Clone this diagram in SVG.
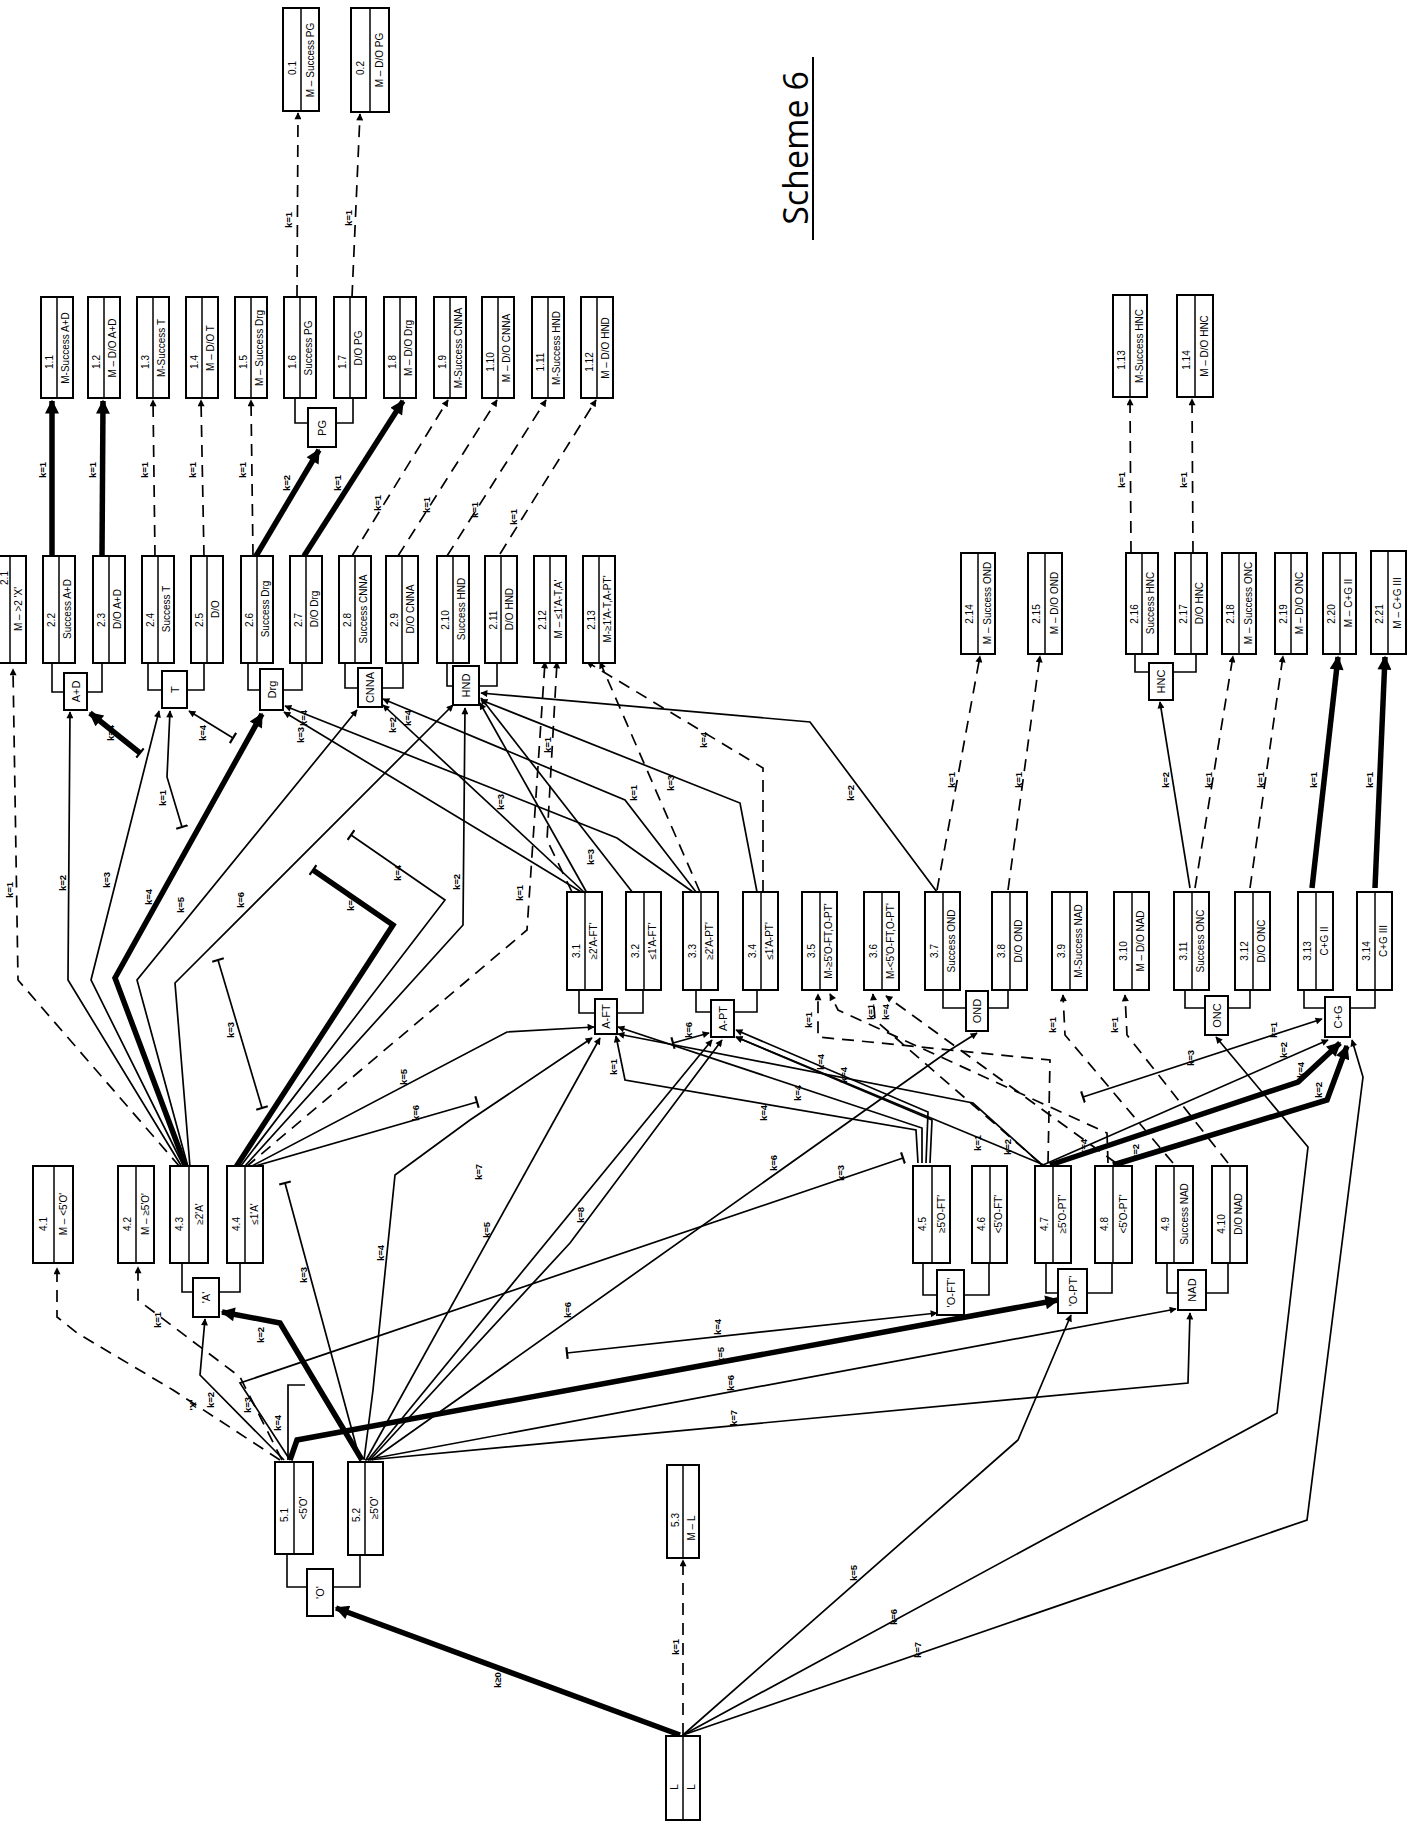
<svg xmlns="http://www.w3.org/2000/svg" width="1420" height="1837" viewBox="0 0 1420 1837">
<style>
.b{fill:#fff;stroke:#000;stroke-width:2}
.v{stroke:#000;stroke-width:1.5}
.t{font-family:"Liberation Sans",Arial,sans-serif;font-size:10px;text-anchor:middle;dominant-baseline:central;fill:#000}
.g{font-family:"Liberation Sans",Arial,sans-serif;font-size:11px;text-anchor:middle;dominant-baseline:central;fill:#000}
.c{fill:none;stroke:#000;stroke-width:1.7}
.d{stroke-dasharray:12 8}
.k{stroke-width:5.5}
.br{fill:none;stroke:#000;stroke-width:1.6}
.l{font-family:"Liberation Sans",Arial,sans-serif;font-size:9.5px;font-weight:bold;text-anchor:middle;dominant-baseline:central;fill:#000}
</style>
<defs>
<marker id="a" viewBox="0 0 10 10" refX="9" refY="5" markerWidth="10" markerHeight="7" markerUnits="userSpaceOnUse" orient="auto"><path d="M0,0L10,5L0,10z"/></marker>
<marker id="A" viewBox="0 0 10 10" refX="9" refY="5" markerWidth="22" markerHeight="14" markerUnits="userSpaceOnUse" orient="auto"><path d="M0,0L10,5L0,10z"/></marker>
<marker id="tb" viewBox="0 0 10 10" refX="5" refY="5" markerWidth="12" markerHeight="12" markerUnits="userSpaceOnUse" orient="auto"><path d="M5,0L5,10" stroke="#000" stroke-width="1.8"/></marker>
</defs>
<rect width="1420" height="1837" fill="#fff"/>

<g id="title">
<text x="795" y="148" transform="rotate(-90 795 148)" font-family="'Open Sans','Liberation Sans',sans-serif" font-size="34" text-anchor="middle" dominant-baseline="central">Scheme 6</text>
<line x1="813" y1="57" x2="813" y2="240" stroke="#000" stroke-width="2"/>
</g>

<g id="brackets">
<path class="br" d="M295,398V423H308M353,398V423H336"/>
<path class="br" d="M52,663V692H64M102,663V692H87"/>
<path class="br" d="M148,663V690H162M204,663V690H187"/>
<path class="br" d="M248,663V690H260M302,663V690H283"/>
<path class="br" d="M345,663V688H358M403,663V688H382"/>
<path class="br" d="M447,663V686H453M497,663V686H479"/>
<path class="br" d="M1135,654V672H1149M1196,654V672H1173"/>
<path class="br" d="M579,990V1013H595M643,990V1013H617"/>
<path class="br" d="M696,990V1012H711M757,990V1012H734"/>
<path class="br" d="M943,990V1008H966M1008,990V1008H988"/>
<path class="br" d="M1185,990V1008H1205M1250,990V1008H1228"/>
<path class="br" d="M1304,990V1008H1325M1375,990V1008H1350"/>
<path class="br" d="M182,1263V1292H193M240,1263V1292H219"/>
<path class="br" d="M923,1263V1295H937M989,1263V1295H964"/>
<path class="br" d="M1046,1263V1293H1058M1112,1263V1293H1087"/>
<path class="br" d="M1167,1263V1293H1178M1228,1263V1293H1206"/>
<path class="br" d="M287,1554V1587H307M360,1555V1587H333"/>
</g>

<g id="connectors">
<path class="c k" d="M52,560L52,401" marker-end="url(#A)"/>
<path class="c k" d="M102,557L103,401" marker-end="url(#A)"/>
<path class="c d" d="M155,557L153,400" marker-end="url(#a)"/>
<path class="c d" d="M204,557L201,400" marker-end="url(#a)"/>
<path class="c d" d="M253,556L251,400" marker-end="url(#a)"/>
<path class="c k" d="M256,556L319,450" marker-end="url(#A)"/>
<path class="c k" d="M304,556L403,401" marker-end="url(#A)"/>
<path class="c d" d="M352,556L448,400" marker-end="url(#a)"/>
<path class="c d" d="M398,556L497,400" marker-end="url(#a)"/>
<path class="c d" d="M447,556L546,400" marker-end="url(#a)"/>
<path class="c d" d="M500,554L596,400" marker-end="url(#a)"/>
<path class="c d" d="M297,297L298,113" marker-end="url(#a)"/>
<path class="c d" d="M352,297L360,114" marker-end="url(#a)"/>
<path class="c d" d="M1131,553L1130,399" marker-end="url(#a)"/>
<path class="c d" d="M1193,553L1192,399" marker-end="url(#a)"/>
<path class="c d" d="M937,890L980,656" marker-end="url(#a)"/>
<path class="c d" d="M1008,890L1040,656" marker-end="url(#a)"/>
<path class="c" d="M1190,888L1160,702" marker-end="url(#a)"/>
<path class="c d" d="M1195,888L1233,656" marker-end="url(#a)"/>
<path class="c d" d="M1250,888L1283,656" marker-end="url(#a)"/>
<path class="c k" d="M1312,888L1338,657" marker-end="url(#A)"/>
<path class="c k" d="M1375,888L1385,657" marker-end="url(#A)"/>

<path class="c d" d="M180,1167L18,980L13,669" marker-end="url(#a)"/>
<path class="c" d="M182,1167L68,980L70,712" marker-end="url(#a)"/>
<path class="c" d="M184,1167L91,980L159,711" marker-end="url(#a)"/>
<path class="c k" d="M186,1167L115,978L262,714" marker-end="url(#A)"/>
<path class="c" d="M188,1167L137,980L357,710" marker-end="url(#a)"/>
<path class="c" d="M190,1167L175,983L453,705" marker-end="url(#a)"/>

<path class="c k" d="M236,1167L393,925L313,870" marker-end="url(#tb)"/>
<path class="c" d="M240,1167L445,900L351,835" marker-end="url(#tb)"/>
<path class="c" d="M218,960L262,1108" marker-start="url(#tb)" marker-end="url(#tb)"/>
<path class="c d" d="M246,1167L527,930L545,662" marker-end="url(#a)"/>
<path class="c" d="M250,1167L507,1032L594,1027" marker-end="url(#a)"/>
<path class="c" d="M252,1167L477,1102" marker-end="url(#tb)"/>
<path class="c" d="M244,1167L463,925L465,708" marker-end="url(#a)"/>

<path class="c k" d="M140,753L90,713" marker-start="url(#tb)" marker-end="url(#A)"/>
<path class="c" d="M233,738L189,711" marker-start="url(#tb)" marker-end="url(#a)"/>
<path class="c" d="M182,827L167,777L170,711" marker-start="url(#tb)" marker-end="url(#a)"/>

<path class="c" d="M583,893L284,712" marker-end="url(#a)"/>
<path class="c" d="M585,893L383,705" marker-end="url(#a)"/>
<path class="c" d="M587,893L480,703" marker-end="url(#a)"/>
<path class="c" d="M633,893L481,698" marker-end="url(#a)"/>
<path class="c" d="M693,892L617,838L285,706" marker-end="url(#a)"/>
<path class="c" d="M696,892L625,800L383,699" marker-end="url(#a)"/>
<path class="c" d="M757,892L740,803L481,700" marker-end="url(#a)"/>
<path class="c" d="M937,892L810,722L481,693" marker-end="url(#a)"/>
<path class="c d" d="M763,892L763,768L587,662" marker-end="url(#a)"/>
<path class="c d" d="M700,892L600,662" marker-end="url(#a)"/>
<path class="c d" d="M572,892L547,840L557,662" marker-end="url(#a)"/>

<path class="c" d="M918,1163L916,1130L625,1080L616,1036" marker-end="url(#a)"/>
<path class="c" d="M922,1163L922,1128L618,1027" marker-end="url(#a)"/>
<path class="c" d="M926,1163L928,1112L736,1030" marker-end="url(#a)"/>
<path class="c" d="M930,1163L932,1120L736,1037" marker-end="url(#a)"/>
<path class="c d" d="M1048,1163L1050,1060L870,1042L818,1037L818,994" marker-end="url(#a)"/>
<path class="c d" d="M1108,1163L1107,1133L838,1010L830,994" marker-end="url(#a)"/>
<path class="c d" d="M1040,1163L875,1020L873,994" marker-end="url(#a)"/>
<path class="c d" d="M1116,1163L886,996" marker-end="url(#a)"/>
<path class="c d" d="M1173,1163L1065,1035L1063,995" marker-end="url(#a)"/>
<path class="c d" d="M1228,1163L1127,1035L1125,995" marker-end="url(#a)"/>
<path class="c" d="M1042,1165L973,1103L618,1034" marker-end="url(#a)"/>
<path class="c" d="M1044,1165L736,1037" marker-end="url(#a)"/>
<path class="c" d="M673,1043L709,1033" marker-start="url(#tb)" marker-end="url(#a)"/>

<path class="c k" d="M1050,1165L1298,1082L1340,1043" marker-end="url(#A)"/>
<path class="c k" d="M1113,1165L1327,1100L1347,1046" marker-end="url(#A)"/>
<path class="c" d="M1083,1097L1322,1019" marker-start="url(#tb)" marker-end="url(#a)"/>
<path class="c" d="M1043,1165L1328,1040" marker-end="url(#a)"/>
<path class="c" d="M683,1735L1307,1520L1363,1077L1352,1040" marker-end="url(#a)"/>
<path class="c" d="M683,1735L1277,1413L1308,1147L1216,1037" marker-end="url(#a)"/>
<path class="c" d="M683,1735L1018,1440L1071,1315" marker-end="url(#a)"/>
<path class="c k" d="M680,1735L336,1608" marker-end="url(#A)"/>
<path class="c d" d="M683,1735L683,1560" marker-end="url(#a)"/>

<path class="c k" d="M290,1460L297,1440L1058,1300" marker-end="url(#A)"/>
<path class="c" d="M567,1353L937,1313" marker-start="url(#tb)" marker-end="url(#a)"/>
<path class="c" d="M365,1460L1176,1309" marker-end="url(#a)"/>
<path class="c" d="M368,1460L1188,1383L1190,1313" marker-end="url(#a)"/>
<path class="c" d="M290,1460L240,1383L903,1158" marker-end="url(#tb)"/>
<path class="c k" d="M362,1460L320,1390L280,1323L222,1312" marker-end="url(#A)"/>
<path class="c" d="M360,1460L285,1183" marker-end="url(#tb)"/>
<path class="c" d="M364,1460L373,1390L395,1175L470,1120L592,1038" marker-end="url(#a)"/>
<path class="c" d="M366,1460L600,1038" marker-end="url(#a)"/>
<path class="c" d="M368,1460L712,1040" marker-end="url(#a)"/>
<path class="c" d="M370,1460L570,1243L722,1040" marker-end="url(#a)"/>
<path class="c" d="M372,1460L950,1050L977,1033" marker-end="url(#a)"/>
<path class="c d" d="M280,1460L173,1390L77,1333L57,1317L57,1268" marker-end="url(#a)"/>
<path class="c d" d="M282,1460L240,1377L138,1300L138,1267" marker-end="url(#a)"/>
<path class="c" d="M284,1460L200,1375L205,1319" marker-end="url(#a)"/>
<path class="c" d="M288,1460L288,1385L305,1385"/>

<g id="edge-labels">
<text class="l" x="42" y="470" transform="rotate(-90 42 470)">k=1</text>
<text class="l" x="92" y="470" transform="rotate(-90 92 470)">k=1</text>
<text class="l" x="144" y="470" transform="rotate(-90 144 470)">k=1</text>
<text class="l" x="192" y="470" transform="rotate(-90 192 470)">k=1</text>
<text class="l" x="242" y="470" transform="rotate(-90 242 470)">k=1</text>
<text class="l" x="286" y="483" transform="rotate(-90 286 483)">k=2</text>
<text class="l" x="337" y="483" transform="rotate(-90 337 483)">k=1</text>
<text class="l" x="377" y="503" transform="rotate(-90 377 503)">k=1</text>
<text class="l" x="426" y="505" transform="rotate(-90 426 505)">k=1</text>
<text class="l" x="474" y="510" transform="rotate(-90 474 510)">k=1</text>
<text class="l" x="513" y="517" transform="rotate(-90 513 517)">k=1</text>
<text class="l" x="288" y="220" transform="rotate(-90 288 220)">k=1</text>
<text class="l" x="348" y="218" transform="rotate(-90 348 218)">k=1</text>
<text class="l" x="1121" y="480" transform="rotate(-90 1121 480)">k=1</text>
<text class="l" x="1183" y="480" transform="rotate(-90 1183 480)">k=1</text>
<text class="l" x="951" y="780" transform="rotate(-90 951 780)">k=1</text>
<text class="l" x="1018" y="780" transform="rotate(-90 1018 780)">k=1</text>
<text class="l" x="1165" y="780" transform="rotate(-90 1165 780)">k=2</text>
<text class="l" x="1208" y="780" transform="rotate(-90 1208 780)">k=1</text>
<text class="l" x="1260" y="780" transform="rotate(-90 1260 780)">k=1</text>
<text class="l" x="1313" y="780" transform="rotate(-90 1313 780)">k=1</text>
<text class="l" x="1369" y="780" transform="rotate(-90 1369 780)">k=1</text>
<text class="l" x="9" y="890" transform="rotate(-90 9 890)">k=1</text>
<text class="l" x="62" y="883" transform="rotate(-90 62 883)">k=2</text>
<text class="l" x="106" y="880" transform="rotate(-90 106 880)">k=3</text>
<text class="l" x="148" y="897" transform="rotate(-90 148 897)">k=4</text>
<text class="l" x="180" y="905" transform="rotate(-90 180 905)">k=5</text>
<text class="l" x="240" y="900" transform="rotate(-90 240 900)">k=6</text>
<text class="l" x="350" y="903" transform="rotate(-90 350 903)">k=4</text>
<text class="l" x="397" y="873" transform="rotate(-90 397 873)">k=4</text>
<text class="l" x="230" y="1030" transform="rotate(-90 230 1030)">k=3</text>
<text class="l" x="519" y="893" transform="rotate(-90 519 893)">k=1</text>
<text class="l" x="403" y="1077" transform="rotate(-90 403 1077)">k=5</text>
<text class="l" x="415" y="1113" transform="rotate(-90 415 1113)">k=6</text>
<text class="l" x="456" y="882" transform="rotate(-90 456 882)">k=2</text>
<text class="l" x="110" y="733" transform="rotate(-90 110 733)">k=4</text>
<text class="l" x="202" y="733" transform="rotate(-90 202 733)">k=4</text>
<text class="l" x="162" y="798" transform="rotate(-90 162 798)">k=1</text>
<text class="l" x="300" y="735" transform="rotate(-90 300 735)">k=3</text>
<text class="l" x="392" y="725" transform="rotate(-90 392 725)">k=2</text>
<text class="l" x="500" y="802" transform="rotate(-90 500 802)">k=3</text>
<text class="l" x="590" y="857" transform="rotate(-90 590 857)">k=3</text>
<text class="l" x="303" y="718" transform="rotate(-90 303 718)">k=4</text>
<text class="l" x="407" y="718" transform="rotate(-90 407 718)">k=4</text>
<text class="l" x="670" y="783" transform="rotate(-90 670 783)">k=3</text>
<text class="l" x="850" y="793" transform="rotate(-90 850 793)">k=2</text>
<text class="l" x="703" y="740" transform="rotate(-90 703 740)">k=4</text>
<text class="l" x="633" y="793" transform="rotate(-90 633 793)">k=1</text>
<text class="l" x="547" y="745" transform="rotate(-90 547 745)">k=1</text>
<text class="l" x="763" y="1113" transform="rotate(-90 763 1113)">k=4</text>
<text class="l" x="613" y="1067" transform="rotate(-90 613 1067)">k=1</text>
<text class="l" x="797" y="1093" transform="rotate(-90 797 1093)">k=4</text>
<text class="l" x="820" y="1062" transform="rotate(-90 820 1062)">k=4</text>
<text class="l" x="843" y="1075" transform="rotate(-90 843 1075)">k=4</text>
<text class="l" x="808" y="1020" transform="rotate(-90 808 1020)">k=1</text>
<text class="l" x="870" y="1012" transform="rotate(-90 870 1012)">k=1</text>
<text class="l" x="885" y="1012" transform="rotate(-90 885 1012)">k=4</text>
<text class="l" x="1052" y="1025" transform="rotate(-90 1052 1025)">k=1</text>
<text class="l" x="1114" y="1025" transform="rotate(-90 1114 1025)">k=1</text>
<text class="l" x="977" y="1143" transform="rotate(-90 977 1143)">k=1</text>
<text class="l" x="1007" y="1147" transform="rotate(-90 1007 1147)">k=2</text>
<text class="l" x="688" y="1030" transform="rotate(-90 688 1030)">k=6</text>
<text class="l" x="1083" y="1147" transform="rotate(-90 1083 1147)">k=4</text>
<text class="l" x="1300" y="1070" transform="rotate(-90 1300 1070)">k=4</text>
<text class="l" x="1135" y="1152" transform="rotate(-90 1135 1152)">k=2</text>
<text class="l" x="1318" y="1090" transform="rotate(-90 1318 1090)">k=2</text>
<text class="l" x="1273" y="1030" transform="rotate(-90 1273 1030)">k=1</text>
<text class="l" x="1283" y="1050" transform="rotate(-90 1283 1050)">k=2</text>
<text class="l" x="1190" y="1058" transform="rotate(-90 1190 1058)">k=3</text>
<text class="l" x="917" y="1650" transform="rotate(-90 917 1650)">k=7</text>
<text class="l" x="893" y="1617" transform="rotate(-90 893 1617)">k=6</text>
<text class="l" x="853" y="1573" transform="rotate(-90 853 1573)">k=5</text>
<text class="l" x="497" y="1680" transform="rotate(-90 497 1680)">k≥0</text>
<text class="l" x="675" y="1647" transform="rotate(-90 675 1647)">k=1</text>
<text class="l" x="720" y="1355" transform="rotate(-90 720 1355)">k=5</text>
<text class="l" x="717" y="1327" transform="rotate(-90 717 1327)">k=4</text>
<text class="l" x="730" y="1383" transform="rotate(-90 730 1383)">k=6</text>
<text class="l" x="733" y="1418" transform="rotate(-90 733 1418)">k=7</text>
<text class="l" x="840" y="1173" transform="rotate(-90 840 1173)">k=3</text>
<text class="l" x="260" y="1335" transform="rotate(-90 260 1335)">k=2</text>
<text class="l" x="303" y="1275" transform="rotate(-90 303 1275)">k=3</text>
<text class="l" x="380" y="1253" transform="rotate(-90 380 1253)">k=4</text>
<text class="l" x="478" y="1172" transform="rotate(-90 478 1172)">k=7</text>
<text class="l" x="486" y="1230" transform="rotate(-90 486 1230)">k=5</text>
<text class="l" x="580" y="1215" transform="rotate(-90 580 1215)">k=8</text>
<text class="l" x="567" y="1310" transform="rotate(-90 567 1310)">k=6</text>
<text class="l" x="773" y="1163" transform="rotate(-90 773 1163)">k=6</text>
<text class="l" x="157" y="1320" transform="rotate(-90 157 1320)">k=1</text>
<text class="l" x="192" y="1405" transform="rotate(-90 192 1405)">'X'</text>
<text class="l" x="210" y="1400" transform="rotate(-90 210 1400)">k=2</text>
<text class="l" x="247" y="1405" transform="rotate(-90 247 1405)">k=3</text>
<text class="l" x="277" y="1423" transform="rotate(-90 277 1423)">k=4</text>
</g>
</g>

<g id="n0_1"><rect class="b" x="283" y="8" width="36" height="103"/><line class="v" x1="301" y1="8" x2="301" y2="111"/><text class="t" x="292" y="68" transform="rotate(-90 292 68)">0.1</text><text class="t" x="310" y="60" transform="rotate(-90 310 60)">M – Success PG</text></g>
<g id="n0_2"><rect class="b" x="351" y="8" width="38" height="104"/><line class="v" x1="370" y1="8" x2="370" y2="112"/><text class="t" x="360" y="68" transform="rotate(-90 360 68)">0.2</text><text class="t" x="379" y="60" transform="rotate(-90 379 60)">M – D/O PG</text></g>

<g id="n1_1"><rect class="b" x="41" y="297" width="32" height="101"/><line class="v" x1="57" y1="297" x2="57" y2="398"/><text class="t" x="49" y="362" transform="rotate(-90 49 362)">1.1</text><text class="t" x="65" y="348" transform="rotate(-90 65 348)">M-Success A+D</text></g>
<g id="n1_2"><rect class="b" x="88" y="297" width="32" height="101"/><line class="v" x1="104" y1="297" x2="104" y2="398"/><text class="t" x="96" y="362" transform="rotate(-90 96 362)">1.2</text><text class="t" x="112" y="348" transform="rotate(-90 112 348)">M – D/O A+D</text></g>
<g id="n1_3"><rect class="b" x="137" y="297" width="32" height="101"/><line class="v" x1="153" y1="297" x2="153" y2="398"/><text class="t" x="145" y="362" transform="rotate(-90 145 362)">1.3</text><text class="t" x="161" y="348" transform="rotate(-90 161 348)">M-Success T</text></g>
<g id="n1_4"><rect class="b" x="186" y="297" width="32" height="101"/><line class="v" x1="202" y1="297" x2="202" y2="398"/><text class="t" x="194" y="362" transform="rotate(-90 194 362)">1.4</text><text class="t" x="210" y="348" transform="rotate(-90 210 348)">M – D/O T</text></g>
<g id="n1_5"><rect class="b" x="235" y="297" width="32" height="101"/><line class="v" x1="251" y1="297" x2="251" y2="398"/><text class="t" x="243" y="362" transform="rotate(-90 243 362)">1.5</text><text class="t" x="259" y="348" transform="rotate(-90 259 348)">M – Success Drg</text></g>
<g id="n1_6"><rect class="b" x="284" y="297" width="32" height="101"/><line class="v" x1="300" y1="297" x2="300" y2="398"/><text class="t" x="292" y="362" transform="rotate(-90 292 362)">1.6</text><text class="t" x="308" y="348" transform="rotate(-90 308 348)">Success PG</text></g>
<g id="n1_7"><rect class="b" x="334" y="297" width="32" height="101"/><line class="v" x1="350" y1="297" x2="350" y2="398"/><text class="t" x="342" y="362" transform="rotate(-90 342 362)">1.7</text><text class="t" x="358" y="348" transform="rotate(-90 358 348)">D/O PG</text></g>
<g id="n1_8"><rect class="b" x="384" y="297" width="32" height="101"/><line class="v" x1="400" y1="297" x2="400" y2="398"/><text class="t" x="392" y="362" transform="rotate(-90 392 362)">1.8</text><text class="t" x="408" y="348" transform="rotate(-90 408 348)">M – D/O Drg</text></g>
<g id="n1_9"><rect class="b" x="434" y="297" width="32" height="101"/><line class="v" x1="450" y1="297" x2="450" y2="398"/><text class="t" x="442" y="362" transform="rotate(-90 442 362)">1.9</text><text class="t" x="458" y="348" transform="rotate(-90 458 348)">M-Success CNNA</text></g>
<g id="n1_10"><rect class="b" x="482" y="297" width="32" height="101"/><line class="v" x1="498" y1="297" x2="498" y2="398"/><text class="t" x="490" y="362" transform="rotate(-90 490 362)">1.10</text><text class="t" x="506" y="348" transform="rotate(-90 506 348)">M – D/O CNNA</text></g>
<g id="n1_11"><rect class="b" x="532" y="297" width="32" height="101"/><line class="v" x1="548" y1="297" x2="548" y2="398"/><text class="t" x="540" y="362" transform="rotate(-90 540 362)">1.11</text><text class="t" x="556" y="348" transform="rotate(-90 556 348)">M-Success HND</text></g>
<g id="n1_12"><rect class="b" x="581" y="297" width="32" height="101"/><line class="v" x1="597" y1="297" x2="597" y2="398"/><text class="t" x="589" y="362" transform="rotate(-90 589 362)">1.12</text><text class="t" x="605" y="348" transform="rotate(-90 605 348)">M – D/O HND</text></g>
<g id="n1_13"><rect class="b" x="1113" y="295" width="34" height="102"/><line class="v" x1="1130" y1="295" x2="1130" y2="397"/><text class="t" x="1121" y="360" transform="rotate(-90 1121 360)">1.13</text><text class="t" x="1139" y="346" transform="rotate(-90 1139 346)">M-Success HNC</text></g>
<g id="n1_14"><rect class="b" x="1177" y="295" width="36" height="102"/><line class="v" x1="1195" y1="295" x2="1195" y2="397"/><text class="t" x="1186" y="360" transform="rotate(-90 1186 360)">1.14</text><text class="t" x="1204" y="346" transform="rotate(-90 1204 346)">M – D/O HNC</text></g>

<g id="pg"><rect class="b" x="308" y="408" width="28" height="39"/><text class="g" x="322" y="428" transform="rotate(-90 322 428)">PG</text></g>

<g id="n2_1"><rect class="b" x="-3" y="556" width="29" height="107"/><line class="v" x1="10" y1="556" x2="10" y2="663"/><text class="t" x="4" y="578" font-size="8" transform="rotate(-90 4 578)">2.1</text><text class="t" x="18" y="609" transform="rotate(-90 18 609)">M – &gt;2 'X'</text></g>
<g id="n2_2"><rect class="b" x="43" y="556" width="32" height="107"/><line class="v" x1="59" y1="556" x2="59" y2="663"/><text class="t" x="51" y="620" transform="rotate(-90 51 620)">2.2</text><text class="t" x="67" y="609" transform="rotate(-90 67 609)">Success A+D</text></g>
<g id="n2_3"><rect class="b" x="93" y="556" width="32" height="107"/><line class="v" x1="109" y1="556" x2="109" y2="663"/><text class="t" x="101" y="620" transform="rotate(-90 101 620)">2.3</text><text class="t" x="117" y="609" transform="rotate(-90 117 609)">D/O A+D</text></g>
<g id="n2_4"><rect class="b" x="142" y="556" width="32" height="107"/><line class="v" x1="158" y1="556" x2="158" y2="663"/><text class="t" x="150" y="620" transform="rotate(-90 150 620)">2.4</text><text class="t" x="166" y="609" transform="rotate(-90 166 609)">Success T</text></g>
<g id="n2_5"><rect class="b" x="191" y="556" width="32" height="107"/><line class="v" x1="207" y1="556" x2="207" y2="663"/><text class="t" x="199" y="620" transform="rotate(-90 199 620)">2.5</text><text class="t" x="215" y="609" transform="rotate(-90 215 609)">D/O</text></g>
<g id="n2_6"><rect class="b" x="241" y="556" width="32" height="107"/><line class="v" x1="257" y1="556" x2="257" y2="663"/><text class="t" x="249" y="620" transform="rotate(-90 249 620)">2.6</text><text class="t" x="265" y="609" transform="rotate(-90 265 609)">Success Drg</text></g>
<g id="n2_7"><rect class="b" x="290" y="556" width="32" height="107"/><line class="v" x1="306" y1="556" x2="306" y2="663"/><text class="t" x="298" y="620" transform="rotate(-90 298 620)">2.7</text><text class="t" x="314" y="609" transform="rotate(-90 314 609)">D/O Drg</text></g>
<g id="n2_8"><rect class="b" x="339" y="556" width="32" height="107"/><line class="v" x1="355" y1="556" x2="355" y2="663"/><text class="t" x="347" y="620" transform="rotate(-90 347 620)">2.8</text><text class="t" x="363" y="609" transform="rotate(-90 363 609)">Success CNNA</text></g>
<g id="n2_9"><rect class="b" x="386" y="556" width="32" height="107"/><line class="v" x1="402" y1="556" x2="402" y2="663"/><text class="t" x="394" y="620" transform="rotate(-90 394 620)">2.9</text><text class="t" x="410" y="609" transform="rotate(-90 410 609)">D/O CNNA</text></g>
<g id="n2_10"><rect class="b" x="437" y="556" width="32" height="107"/><line class="v" x1="453" y1="556" x2="453" y2="663"/><text class="t" x="445" y="620" transform="rotate(-90 445 620)">2.10</text><text class="t" x="461" y="609" transform="rotate(-90 461 609)">Success HND</text></g>
<g id="n2_11"><rect class="b" x="485" y="556" width="32" height="107"/><line class="v" x1="501" y1="556" x2="501" y2="663"/><text class="t" x="493" y="620" transform="rotate(-90 493 620)">2.11</text><text class="t" x="509" y="609" transform="rotate(-90 509 609)">D/O HND</text></g>
<g id="n2_12"><rect class="b" x="534" y="556" width="32" height="107"/><line class="v" x1="550" y1="556" x2="550" y2="663"/><text class="t" x="542" y="620" transform="rotate(-90 542 620)">2.12</text><text class="t" x="558" y="609" transform="rotate(-90 558 609)">M – ≤1'A-T,A'</text></g>
<g id="n2_13"><rect class="b" x="583" y="556" width="32" height="107"/><line class="v" x1="599" y1="556" x2="599" y2="663"/><text class="t" x="591" y="620" transform="rotate(-90 591 620)">2.13</text><text class="t" x="607" y="609" transform="rotate(-90 607 609)">M-≥1'A-T,A-PT'</text></g>
<g id="n2_14"><rect class="b" x="961" y="553" width="34" height="101"/><line class="v" x1="978" y1="553" x2="978" y2="654"/><text class="t" x="969" y="614" transform="rotate(-90 969 614)">2.14</text><text class="t" x="987" y="603" transform="rotate(-90 987 603)">M – Success OND</text></g>
<g id="n2_15"><rect class="b" x="1028" y="553" width="34" height="101"/><line class="v" x1="1045" y1="553" x2="1045" y2="654"/><text class="t" x="1036" y="614" transform="rotate(-90 1036 614)">2.15</text><text class="t" x="1054" y="603" transform="rotate(-90 1054 603)">M – D/O OND</text></g>
<g id="n2_16"><rect class="b" x="1126" y="553" width="32" height="101"/><line class="v" x1="1142" y1="553" x2="1142" y2="654"/><text class="t" x="1134" y="614" transform="rotate(-90 1134 614)">2.16</text><text class="t" x="1150" y="603" transform="rotate(-90 1150 603)">Success HNC</text></g>
<g id="n2_17"><rect class="b" x="1175" y="553" width="32" height="101"/><line class="v" x1="1191" y1="553" x2="1191" y2="654"/><text class="t" x="1183" y="614" transform="rotate(-90 1183 614)">2.17</text><text class="t" x="1199" y="603" transform="rotate(-90 1199 603)">D/O HNC</text></g>
<g id="n2_18"><rect class="b" x="1222" y="553" width="34" height="101"/><line class="v" x1="1239" y1="553" x2="1239" y2="654"/><text class="t" x="1230" y="614" transform="rotate(-90 1230 614)">2.18</text><text class="t" x="1248" y="603" transform="rotate(-90 1248 603)">M – Success ONC</text></g>
<g id="n2_19"><rect class="b" x="1275" y="553" width="32" height="101"/><line class="v" x1="1291" y1="553" x2="1291" y2="654"/><text class="t" x="1283" y="614" transform="rotate(-90 1283 614)">2.19</text><text class="t" x="1299" y="603" transform="rotate(-90 1299 603)">M – D/O ONC</text></g>
<g id="n2_20"><rect class="b" x="1323" y="553" width="33" height="101"/><line class="v" x1="1340" y1="553" x2="1340" y2="654"/><text class="t" x="1331" y="614" transform="rotate(-90 1331 614)">2.20</text><text class="t" x="1348" y="603" transform="rotate(-90 1348 603)">M – C+G II</text></g>
<g id="n2_21"><rect class="b" x="1371" y="551" width="35" height="103"/><line class="v" x1="1388" y1="551" x2="1388" y2="654"/><text class="t" x="1379" y="614" transform="rotate(-90 1379 614)">2.21</text><text class="t" x="1397" y="603" transform="rotate(-90 1397 603)">M – C+G III</text></g>

<g id="ad"><rect class="b" x="64" y="673" width="23" height="37"/><text class="g" x="75.5" y="691.5" transform="rotate(-90 75.5 691.5)">A+D</text></g>
<g id="t"><rect class="b" x="162" y="671" width="25" height="37"/><text class="g" x="174.5" y="689.5" transform="rotate(-90 174.5 689.5)">T</text></g>
<g id="drg"><rect class="b" x="260" y="669" width="23" height="41"/><text class="g" x="271.5" y="689.5" transform="rotate(-90 271.5 689.5)">Drg</text></g>
<g id="cnna"><rect class="b" x="358" y="668" width="24" height="39"/><text class="g" x="370" y="687.5" font-size="9.5" transform="rotate(-90 370 687.5)">CNNA</text></g>
<g id="hnd"><rect class="b" x="453" y="666" width="26" height="39"/><text class="g" x="466" y="685.5" transform="rotate(-90 466 685.5)">HND</text></g>
<g id="hnc"><rect class="b" x="1149" y="663" width="24" height="37"/><text class="g" x="1161" y="681.5" transform="rotate(-90 1161 681.5)">HNC</text></g>

<g id="n3_1"><rect class="b" x="567" y="892" width="35" height="98"/><line class="v" x1="585" y1="892" x2="585" y2="990"/><text class="t" x="576" y="951" transform="rotate(-90 576 951)">3.1</text><text class="t" x="593" y="941" transform="rotate(-90 593 941)">≥2'A-FT'</text></g>
<g id="n3_2"><rect class="b" x="626" y="892" width="35" height="98"/><line class="v" x1="644" y1="892" x2="644" y2="990"/><text class="t" x="635" y="951" transform="rotate(-90 635 951)">3.2</text><text class="t" x="652" y="941" transform="rotate(-90 652 941)">≤1'A-FT'</text></g>
<g id="n3_3"><rect class="b" x="683" y="892" width="35" height="98"/><line class="v" x1="701" y1="892" x2="701" y2="990"/><text class="t" x="692" y="951" transform="rotate(-90 692 951)">3.3</text><text class="t" x="709" y="941" transform="rotate(-90 709 941)">≥2'A-PT'</text></g>
<g id="n3_4"><rect class="b" x="743" y="892" width="35" height="98"/><line class="v" x1="761" y1="892" x2="761" y2="990"/><text class="t" x="752" y="951" transform="rotate(-90 752 951)">3.4</text><text class="t" x="769" y="941" transform="rotate(-90 769 941)">≤1'A-PT'</text></g>
<g id="n3_5"><rect class="b" x="802" y="892" width="35" height="98"/><line class="v" x1="820" y1="892" x2="820" y2="990"/><text class="t" x="811" y="951" transform="rotate(-90 811 951)">3.5</text><text class="t" x="828" y="941" transform="rotate(-90 828 941)">M-≥5'O-FT,O-PT'</text></g>
<g id="n3_6"><rect class="b" x="864" y="892" width="35" height="98"/><line class="v" x1="882" y1="892" x2="882" y2="990"/><text class="t" x="873" y="951" transform="rotate(-90 873 951)">3.6</text><text class="t" x="890" y="941" transform="rotate(-90 890 941)">M-&lt;5'O-FT,O-PT'</text></g>
<g id="n3_7"><rect class="b" x="925" y="892" width="35" height="98"/><line class="v" x1="943" y1="892" x2="943" y2="990"/><text class="t" x="934" y="951" transform="rotate(-90 934 951)">3.7</text><text class="t" x="951" y="941" transform="rotate(-90 951 941)">Success OND</text></g>
<g id="n3_8"><rect class="b" x="992" y="892" width="35" height="98"/><line class="v" x1="1010" y1="892" x2="1010" y2="990"/><text class="t" x="1001" y="951" transform="rotate(-90 1001 951)">3.8</text><text class="t" x="1018" y="941" transform="rotate(-90 1018 941)">D/O OND</text></g>
<g id="n3_9"><rect class="b" x="1052" y="892" width="35" height="98"/><line class="v" x1="1070" y1="892" x2="1070" y2="990"/><text class="t" x="1061" y="951" transform="rotate(-90 1061 951)">3.9</text><text class="t" x="1078" y="941" transform="rotate(-90 1078 941)">M-Success NAD</text></g>
<g id="n3_10"><rect class="b" x="1114" y="892" width="35" height="98"/><line class="v" x1="1132" y1="892" x2="1132" y2="990"/><text class="t" x="1123" y="951" transform="rotate(-90 1123 951)">3.10</text><text class="t" x="1140" y="941" transform="rotate(-90 1140 941)">M – D/O NAD</text></g>
<g id="n3_11"><rect class="b" x="1174" y="892" width="35" height="98"/><line class="v" x1="1192" y1="892" x2="1192" y2="990"/><text class="t" x="1183" y="951" transform="rotate(-90 1183 951)">3.11</text><text class="t" x="1200" y="941" transform="rotate(-90 1200 941)">Success ONC</text></g>
<g id="n3_12"><rect class="b" x="1235" y="892" width="35" height="98"/><line class="v" x1="1253" y1="892" x2="1253" y2="990"/><text class="t" x="1244" y="951" transform="rotate(-90 1244 951)">3.12</text><text class="t" x="1261" y="941" transform="rotate(-90 1261 941)">D/O ONC</text></g>
<g id="n3_13"><rect class="b" x="1298" y="892" width="35" height="98"/><line class="v" x1="1316" y1="892" x2="1316" y2="990"/><text class="t" x="1307" y="951" transform="rotate(-90 1307 951)">3.13</text><text class="t" x="1324" y="941" transform="rotate(-90 1324 941)">C+G II</text></g>
<g id="n3_14"><rect class="b" x="1357" y="892" width="35" height="98"/><line class="v" x1="1375" y1="892" x2="1375" y2="990"/><text class="t" x="1366" y="951" transform="rotate(-90 1366 951)">3.14</text><text class="t" x="1383" y="941" transform="rotate(-90 1383 941)">C+G III</text></g>

<g id="aft"><rect class="b" x="595" y="999" width="22" height="35"/><text class="g" x="606" y="1016.5" font-size="9" transform="rotate(-90 606 1016.5)">A-FT</text></g>
<g id="apt"><rect class="b" x="711" y="1000" width="23" height="37"/><text class="g" x="722.5" y="1018.5" font-size="9.5" transform="rotate(-90 722.5 1018.5)">A-PT</text></g>
<g id="ond"><rect class="b" x="966" y="991" width="22" height="40"/><text class="g" x="977" y="1011" transform="rotate(-90 977 1011)">OND</text></g>
<g id="onc"><rect class="b" x="1205" y="996" width="23" height="39"/><text class="g" x="1216.5" y="1015.5" transform="rotate(-90 1216.5 1015.5)">ONC</text></g>
<g id="cg"><rect class="b" x="1325" y="997" width="25" height="40"/><text class="g" x="1337.5" y="1017" transform="rotate(-90 1337.5 1017)">C+G</text></g>

<g id="n4_1"><rect class="b" x="33" y="1166" width="40" height="97"/><line class="v" x1="54" y1="1166" x2="54" y2="1263"/><text class="t" x="43" y="1224" transform="rotate(-90 43 1224)">4.1</text><text class="t" x="63" y="1214" transform="rotate(-90 63 1214)">M – &lt;5'O'</text></g>
<g id="n4_2"><rect class="b" x="118" y="1166" width="36" height="97"/><line class="v" x1="136" y1="1166" x2="136" y2="1263"/><text class="t" x="127" y="1224" transform="rotate(-90 127 1224)">4.2</text><text class="t" x="145" y="1214" transform="rotate(-90 145 1214)">M – ≥5'O'</text></g>
<g id="n4_3"><rect class="b" x="170" y="1166" width="38" height="97"/><line class="v" x1="189" y1="1166" x2="189" y2="1263"/><text class="t" x="179" y="1224" transform="rotate(-90 179 1224)">4.3</text><text class="t" x="199" y="1214" transform="rotate(-90 199 1214)">≥2'A'</text></g>
<g id="n4_4"><rect class="b" x="227" y="1166" width="36" height="97"/><line class="v" x1="245" y1="1166" x2="245" y2="1263"/><text class="t" x="236" y="1224" transform="rotate(-90 236 1224)">4.4</text><text class="t" x="254" y="1214" transform="rotate(-90 254 1214)">≤1'A'</text></g>
<g id="n4_5"><rect class="b" x="913" y="1166" width="37" height="97"/><line class="v" x1="932" y1="1166" x2="932" y2="1263"/><text class="t" x="922" y="1224" transform="rotate(-90 922 1224)">4.5</text><text class="t" x="941" y="1214" transform="rotate(-90 941 1214)">≥5'O-FT'</text></g>
<g id="n4_6"><rect class="b" x="972" y="1166" width="35" height="97"/><line class="v" x1="990" y1="1166" x2="990" y2="1263"/><text class="t" x="981" y="1224" transform="rotate(-90 981 1224)">4.6</text><text class="t" x="998" y="1214" transform="rotate(-90 998 1214)">&lt;5'O-FT'</text></g>
<g id="n4_7"><rect class="b" x="1035" y="1166" width="36" height="97"/><line class="v" x1="1053" y1="1166" x2="1053" y2="1263"/><text class="t" x="1044" y="1224" transform="rotate(-90 1044 1224)">4.7</text><text class="t" x="1062" y="1214" transform="rotate(-90 1062 1214)">≥5'O-PT'</text></g>
<g id="n4_8"><rect class="b" x="1095" y="1166" width="37" height="97"/><line class="v" x1="1113" y1="1166" x2="1113" y2="1263"/><text class="t" x="1104" y="1224" transform="rotate(-90 1104 1224)">4.8</text><text class="t" x="1123" y="1214" transform="rotate(-90 1123 1214)">&lt;5'O-PT'</text></g>
<g id="n4_9"><rect class="b" x="1156" y="1166" width="37" height="97"/><line class="v" x1="1174" y1="1166" x2="1174" y2="1263"/><text class="t" x="1165" y="1224" transform="rotate(-90 1165 1224)">4.9</text><text class="t" x="1184" y="1214" transform="rotate(-90 1184 1214)">Success NAD</text></g>
<g id="n4_10"><rect class="b" x="1212" y="1166" width="35" height="97"/><line class="v" x1="1230" y1="1166" x2="1230" y2="1263"/><text class="t" x="1221" y="1224" transform="rotate(-90 1221 1224)">4.10</text><text class="t" x="1238" y="1214" transform="rotate(-90 1238 1214)">D/O NAD</text></g>

<g id="aa"><rect class="b" x="193" y="1278" width="26" height="39"/><text class="g" x="206" y="1297.5" transform="rotate(-90 206 1297.5)">'A'</text></g>
<g id="oft"><rect class="b" x="937" y="1270" width="27" height="45"/><text class="g" x="950.5" y="1292.5" transform="rotate(-90 950.5 1292.5)">'O-FT'</text></g>
<g id="opt"><rect class="b" x="1058" y="1269" width="29" height="44"/><text class="g" x="1072.5" y="1291" transform="rotate(-90 1072.5 1291)">'O-PT'</text></g>
<g id="nad"><rect class="b" x="1178" y="1270" width="28" height="40"/><text class="g" x="1192" y="1290" transform="rotate(-90 1192 1290)">NAD</text></g>

<g id="n5_1"><rect class="b" x="275" y="1462" width="38" height="92"/><line class="v" x1="294" y1="1462" x2="294" y2="1554"/><text class="t" x="284" y="1515" transform="rotate(-90 284 1515)">5.1</text><text class="t" x="303" y="1508" transform="rotate(-90 303 1508)">&lt;5'O'</text></g>
<g id="n5_2"><rect class="b" x="348" y="1462" width="35" height="93"/><line class="v" x1="365" y1="1462" x2="365" y2="1555"/><text class="t" x="356" y="1515" transform="rotate(-90 356 1515)">5.2</text><text class="t" x="374" y="1508" transform="rotate(-90 374 1508)">≥5'O'</text></g>
<g id="oo"><rect class="b" x="307" y="1569" width="26" height="47"/><text class="g" x="320" y="1592.5" transform="rotate(-90 320 1592.5)">'O'</text></g>
<g id="n5_3"><rect class="b" x="667" y="1465" width="32" height="93"/><line class="v" x1="683" y1="1465" x2="683" y2="1558"/><text class="t" x="675" y="1520" transform="rotate(-90 675 1520)">5.3</text><text class="t" x="691" y="1528" transform="rotate(-90 691 1528)">M – L</text></g>
<g id="start"><rect class="b" x="666" y="1736" width="34" height="84"/><line class="v" x1="683" y1="1736" x2="683" y2="1820"/><text class="t" x="674" y="1787" transform="rotate(-90 674 1787)">L</text><text class="t" x="691" y="1787" transform="rotate(-90 691 1787)">L</text></g>
</svg>
